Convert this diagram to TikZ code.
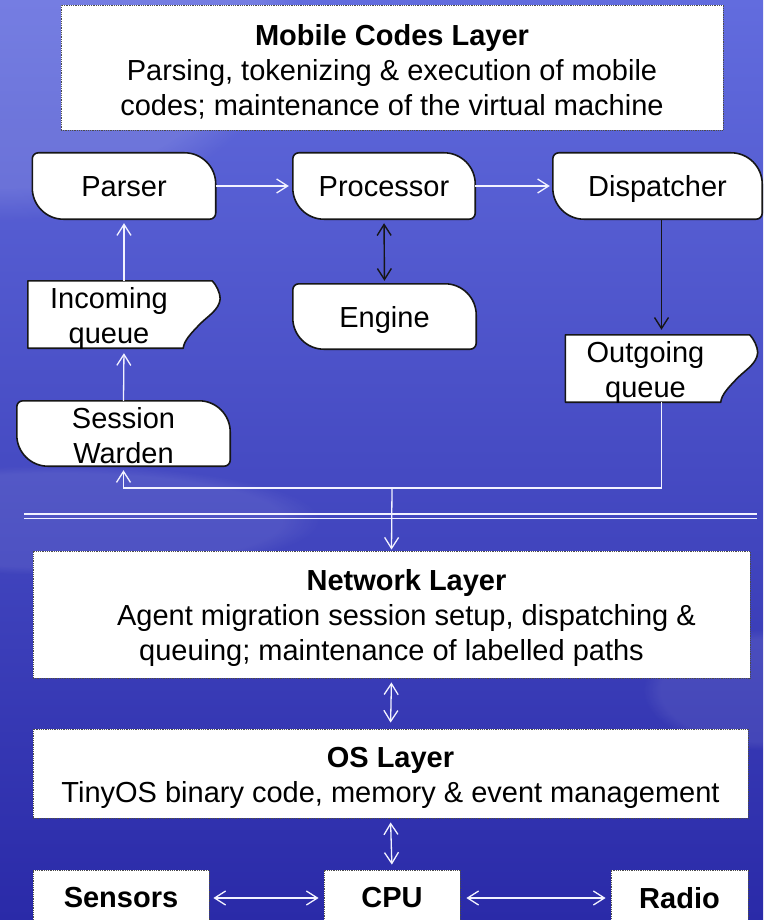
\documentclass[tikz,border=0pt]{standalone}
\usepackage{fontspec}
\setmainfont{Liberation Sans}
\usetikzlibrary{arrows.meta,fadings}

\pgfdeclarelayer{backdrop}
\pgfdeclarelayer{outlines}
\pgfsetlayers{backdrop,outlines,main}

\definecolor{bgtop}{RGB}{98,108,222}
\definecolor{bgmid}{RGB}{84,92,210}
\definecolor{bgbot}{RGB}{42,42,168}
\definecolor{inkline}{RGB}{22,22,22}
\definecolor{linkwhite}{RGB}{242,242,255}

\tikzset{
  >={Straight Barb[length=11pt,width=14pt]},
  big/.style={font=\fontsize{29pt}{35pt}\selectfont},
  shapebox/.style={big, inner sep=0pt, align=center},
  oneline/.style={shapebox, text height=21pt, text depth=0pt},
  layerbox/.style={big, align=center, fill=white, draw=black!70,
                   densely dotted, line width=0.8pt, inner sep=0pt},
  boxline/.style={fill=white, draw=inkline, line width=1.6pt, line join=round},
  wlink/.style={draw=linkwhite, line width=1.3pt},
  blink/.style={draw=inkline, line width=1.4pt},
  rule/.style={draw=linkwhite, line width=1.3pt},
}

% process box: small rounding top-left / bottom-right, large rounding top-right / bottom-left
\newcommand\roundproc[1]{%
  \path[boxline]
    ([xshift=6pt]#1.north west) -- ([xshift=-31pt]#1.north east)
    .. controls ([xshift=-14pt]#1.north east) and ([yshift=-14pt]#1.north east) .. ([yshift=-31pt]#1.north east)
    -- ([yshift=6pt]#1.south east)
    .. controls ([yshift=2.7pt]#1.south east) and ([xshift=-2.7pt]#1.south east) .. ([xshift=-6pt]#1.south east)
    -- ([xshift=31pt]#1.south west)
    .. controls ([xshift=14pt]#1.south west) and ([yshift=14pt]#1.south west) .. ([yshift=31pt]#1.south west)
    -- ([yshift=-6pt]#1.north west)
    .. controls ([yshift=-2.7pt]#1.north west) and ([xshift=2.7pt]#1.north west) .. ([xshift=6pt]#1.north west)
    -- cycle;}

% queue box: rectangle with a notched right side
\newcommand\tapequeue[1]{%
  \path[boxline]
    (#1.north west) -- ([xshift=-8pt]#1.north east)
    .. controls ([xshift=-4pt,yshift=-4pt]#1.north east) and ([yshift=-12pt]#1.north east) .. ([yshift=-18pt]#1.north east)
    .. controls ([xshift=-1pt,yshift=-29pt]#1.north east) and ([xshift=-12pt,yshift=-35pt]#1.north east) .. ([xshift=-20pt,yshift=-43pt]#1.north east)
    .. controls ([xshift=-29pt,yshift=15pt]#1.south east) and ([xshift=-36pt,yshift=8pt]#1.south east) .. ([xshift=-37pt]#1.south east)
    -- (#1.south west) -- cycle;}

\begin{document}
\begin{tikzpicture}[x=1pt,y=-1pt]
\useasboundingbox (0,0) rectangle (763,920);

% backdrop
\begin{pgfonlayer}{backdrop}
  \shade[top color=bgtop, middle color=bgmid, bottom color=bgbot] (0,0) rectangle (763,920);
  \fill[white, opacity=0.12, path fading=circle with fuzzy edge 15 percent]
    (0,0) ellipse [x radius=300pt, y radius=220pt];
  \fill[white, opacity=0.08, path fading=circle with fuzzy edge 15 percent]
    (60,520) ellipse [x radius=260pt, y radius=55pt];
  \fill[white, opacity=0.08, path fading=circle with fuzzy edge 15 percent]
    (763,690) ellipse [x radius=120pt, y radius=60pt];
\end{pgfonlayer}

% layer boxes
\node[layerbox, minimum width=662pt, minimum height=125pt] (mcl) at (392,67.5) {};
\node[shapebox] (mcltext) at (392,71.5)
  {\textbf{Mobile Codes Layer}\\Parsing, tokenizing \& execution of mobile\\codes; maintenance of the virtual machine};
\node[layerbox, minimum width=717pt, minimum height=127pt] (net) at (391.5,614.5) {};
\node[shapebox] (nettext) at (391.5,617.5)
  {\hspace*{30pt}\textbf{Network Layer}\\\hspace*{30pt}Agent migration session setup, dispatching \&\\queuing; maintenance of labelled paths};
\node[layerbox, minimum width=715pt, minimum height=89pt] (os) at (390.5,773.5) {};
\node[shapebox] (ostext) at (390.5,778)
  {\textbf{OS Layer}\\TinyOS binary code, memory \& event management};

% hardware boxes
\node[layerbox, minimum width=176pt, minimum height=56pt] (sensors) at (121,898) {\textbf{Sensors}};
\node[layerbox, minimum width=136pt, minimum height=56pt] (cpu) at (392,898) {\textbf{CPU}};
\node[layerbox, minimum width=137pt, minimum height=56pt] (radio) at (679.5,898) {\textbf{Radio}};

% process boxes
\node[oneline, minimum width=183pt, minimum height=66pt] (parser) at (124,186) {Parser};
\node[oneline, minimum width=182pt, minimum height=66pt] (proc) at (384,186) {Processor};
\node[oneline, minimum width=209pt, minimum height=66pt] (disp) at (657.5,186) {Dispatcher};
\node[oneline, minimum width=183pt, minimum height=65pt] (engine) at (384.5,316.5) {Engine};
\node[minimum width=213pt, minimum height=65pt, inner sep=0pt] (warden) at (123.5,433.5) {};
\node[shapebox] (wardentext) at (123.5,436) {Session\\Warden};

% queues
\node[minimum width=192pt, minimum height=67pt, inner sep=0pt] (iq) at (124,314.5) {};
\node[shapebox] (iqtext) at (109,318) {Incoming\\queue};
\node[minimum width=192pt, minimum height=67pt, inner sep=0pt] (oq) at (661.5,368.5) {};
\node[shapebox] (oqtext) at (645.5,372.5) {Outgoing\\queue};

\begin{pgfonlayer}{outlines}
  \roundproc{parser}
  \roundproc{proc}
  \roundproc{disp}
  \roundproc{engine}
  \roundproc{warden}
  \tapequeue{iq}
  \tapequeue{oq}
\end{pgfonlayer}

% double rule between the mobile-code part and the network layer
\coordinate (sepA) at (24,514);
\coordinate (sepB) at (757,514);
\draw[rule] (sepA) -- (sepB);
\draw[rule] ([yshift=-4.5pt]sepA) -- ([yshift=-4.5pt]sepB);

% data flow
\coordinate (j) at (392,488);
\draw[wlink, ->, shorten >=4pt] (iq.north) -- (parser.south);
\draw[wlink, ->, shorten >=5pt] (warden.north) -- (iq.south);
\draw[wlink, ->, shorten >=4pt] (parser.east) -- (proc.west);
\draw[wlink, ->, shorten >=3pt] (proc.east) -- (disp.west);
\draw[blink, <->, shorten >=3pt, shorten <=4pt] (proc.south) -- (engine.north);
\draw[blink, ->, shorten >=5pt] (disp.south -| oq.north) -- (oq.north);
\draw[wlink, ->, shorten >=4pt] (oq.south) |- (j) -| (warden.south);
\draw[wlink, ->, shorten >=1pt] (j) -- (net.north);

% layer interfaces
\draw[wlink, <->, shorten <=4pt, shorten >=6pt] (net.south) -- (os.north);
\draw[wlink, <->, shorten <=4pt, shorten >=5pt] (os.south) -- (cpu.north);
\draw[wlink, <->, shorten <=5pt, shorten >=4pt] (cpu.west) -- (sensors.east);
\draw[wlink, <->, shorten <=6pt, shorten >=5pt] (cpu.east) -- (radio.west);
\end{tikzpicture}
\end{document}
